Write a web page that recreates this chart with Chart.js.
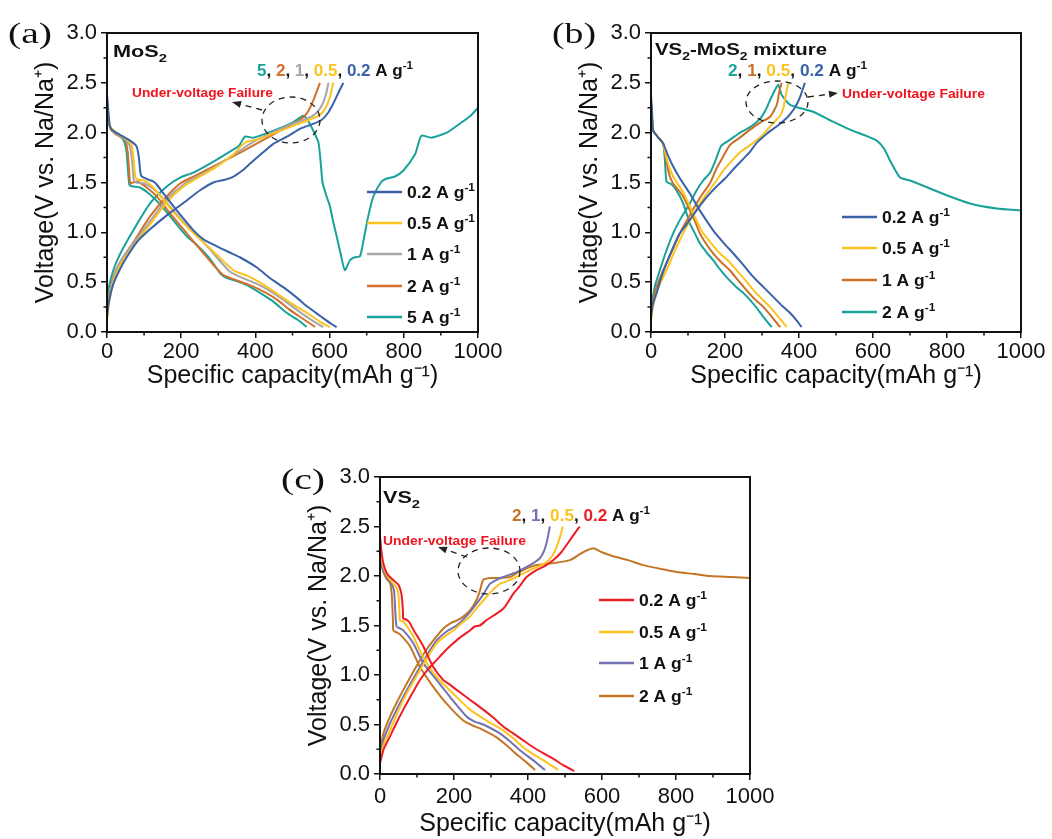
<!DOCTYPE html>
<html>
<head>
<meta charset="utf-8">
<title>Charge-discharge profiles</title>
<script src="https://cdn.jsdelivr.net/npm/chart.js@4.4.1/dist/chart.umd.min.js"></script>
<style>
  html, body { margin: 0; padding: 0; background: #fff; }
  body { position: relative; width: 1052px; height: 839px; overflow: hidden; }
  canvas { position: absolute; }
</style>
</head>
<body>
<canvas id="chartA" width="530" height="400" style="left:0;top:0"></canvas>
<canvas id="chartB" width="508" height="400" style="left:544px;top:0"></canvas>
<canvas id="chartC" width="530" height="395" style="left:273px;top:444px"></canvas>
<script>
// ---------- data (capacity mAh/g, voltage V) ----------
// (a) MoS2
var mos2Rates = ['0.2', '0.5', '1', '2', '5'];
var mos2Colors = ['#3A62A8', '#FCC31E', '#A6A6A6', '#D2712B', '#18A29B'];
var mos2Dis02 = [[0,2.39],[4,2.2],[8,2.06],[20,2.01],[44,1.96],[70,1.9],[80,1.86],[86,1.75],[90,1.6],[94,1.56],[111,1.53],[125,1.51],[134,1.48],[152,1.39],[188,1.22],[233,1.02],[260,0.93],[296,0.86],[330,0.8],[358,0.75],[403,0.65],[440,0.54],[475,0.45],[510,0.35],[538,0.26],[575,0.16],[605,0.08],[619,0.05]];
var mos2Dis05 = [[0,2.3],[4,2.16],[9,2.06],[25,2.0],[50,1.94],[66,1.88],[72,1.72],[76,1.56],[82,1.53],[100,1.52],[116,1.48],[132,1.42],[152,1.33],[180,1.2],[220,1.04],[260,0.9],[300,0.76],[325,0.67],[345,0.61],[380,0.56],[420,0.48],[460,0.38],[500,0.28],[540,0.19],[575,0.1],[601,0.05]];
var mos2Dis1 = [[0,2.28],[4,2.15],[9,2.05],[25,1.99],[50,1.93],[62,1.86],[68,1.7],[72,1.53],[78,1.5],[100,1.49],[116,1.46],[136,1.4],[160,1.3],[190,1.17],[230,1.01],[270,0.86],[305,0.71],[330,0.61],[360,0.55],[400,0.49],[440,0.41],[480,0.31],[520,0.2],[560,0.1],[583,0.05]];
var mos2Dis2 = [[0,2.32],[4,2.15],[9,2.04],[25,1.98],[49,1.93],[56,1.8],[60,1.6],[63,1.49],[70,1.5],[82,1.51],[107,1.45],[134,1.36],[170,1.19],[215,0.99],[260,0.79],[290,0.66],[314,0.57],[341,0.53],[385,0.47],[430,0.39],[460,0.32],[490,0.23],[525,0.14],[561,0.05]];
var mos2Dis5 = [[0,2.29],[4,2.12],[11,2.04],[30,1.98],[44,1.93],[52,1.83],[57,1.6],[61,1.47],[71,1.46],[89,1.45],[116,1.38],[143,1.28],[179,1.12],[215,0.96],[240,0.88],[269,0.77],[290,0.67],[305,0.59],[323,0.54],[350,0.51],[377,0.47],[422,0.37],[450,0.3],[485,0.19],[515,0.12],[538,0.05]];
var mos2Chg02 = [[0,0.15],[5,0.3],[17,0.48],[35,0.63],[53,0.75],[80,0.9],[116,1.03],[161,1.17],[215,1.32],[250,1.42],[287,1.5],[320,1.53],[341,1.56],[365,1.62],[386,1.69],[420,1.8],[449,1.89],[490,1.97],[521,2.04],[557,2.09],[579,2.13],[596,2.2],[611,2.3],[625,2.41],[637,2.5]];
var mos2Chg05 = [[0,0.12],[5,0.28],[17,0.5],[40,0.7],[71,0.86],[110,1.05],[161,1.3],[206,1.46],[250,1.56],[296,1.66],[340,1.78],[360,1.86],[377,1.91],[404,1.93],[440,1.98],[476,2.03],[510,2.08],[539,2.12],[565,2.16],[580,2.2],[592,2.27],[601,2.36],[610,2.5]];
var mos2Chg1 = [[0,0.15],[5,0.32],[17,0.53],[40,0.73],[71,0.89],[110,1.08],[161,1.33],[206,1.48],[250,1.57],[296,1.67],[350,1.8],[400,1.92],[450,2.01],[500,2.09],[540,2.14],[565,2.2],[580,2.28],[590,2.38],[597,2.5]];
var mos2Chg2 = [[0,0.18],[5,0.35],[17,0.55],[35,0.7],[71,0.9],[116,1.16],[161,1.36],[197,1.49],[233,1.56],[296,1.68],[359,1.8],[413,1.91],[467,2.02],[521,2.13],[538,2.19],[550,2.27],[562,2.38],[574,2.5]];
var mos2Chg5 = [[0,0.3],[5,0.45],[17,0.62],[35,0.78],[71,1.02],[116,1.29],[161,1.46],[197,1.55],[233,1.6],[287,1.71],[340,1.83],[356,1.87],[372,1.96],[395,1.95],[449,2.02],[500,2.1],[529,2.17],[542,2.12],[556,2.02],[570,1.9],[576,1.7],[581,1.5],[592,1.36],[601,1.26],[610,1.1],[619,0.96],[630,0.78],[641,0.62],[655,0.72],[668,0.75],[682,0.76],[693,0.95],[704,1.16],[718,1.36],[740,1.51],[754,1.54],[776,1.56],[799,1.62],[830,1.78],[840,1.9],[848,1.97],[875,1.95],[916,2.0],[951,2.09],[980,2.17],[1000,2.25]];

// (b) VS2-MoS2 mixture
var mixRates = ['0.2', '0.5', '1', '2'];
var mixColors = ['#3A62A8', '#FCC31E', '#CB6F26', '#18A29B'];
var mixDis02 = [[0,2.38],[3,2.2],[6,2.02],[20,1.95],[33,1.89],[45,1.78],[60,1.66],[80,1.53],[105,1.39],[132,1.22],[168,1.02],[195,0.9],[222,0.79],[250,0.67],[277,0.55],[304,0.45],[331,0.35],[355,0.26],[376,0.19],[395,0.11],[407,0.05]];
var mixDis05 = [[0,2.3],[3,2.15],[6,2.02],[20,1.95],[33,1.88],[45,1.7],[56,1.59],[70,1.5],[87,1.4],[105,1.26],[123,1.12],[141,0.99],[165,0.88],[186,0.79],[210,0.71],[231,0.62],[255,0.52],[277,0.42],[300,0.33],[322,0.25],[345,0.15],[367,0.05]];
var mixDis1 = [[0,2.32],[3,2.15],[6,2.02],[20,1.95],[33,1.89],[42,1.7],[51,1.56],[60,1.49],[75,1.42],[87,1.36],[105,1.22],[120,1.1],[132,0.99],[150,0.88],[168,0.79],[190,0.7],[213,0.62],[235,0.52],[258,0.42],[280,0.33],[304,0.25],[327,0.15],[349,0.05]];
var mixDis2 = [[0,2.29],[3,2.12],[6,2.02],[20,1.95],[33,1.89],[38,1.7],[42,1.51],[56,1.48],[69,1.42],[87,1.29],[105,1.09],[120,0.98],[132,0.89],[150,0.8],[168,0.72],[186,0.63],[204,0.55],[231,0.45],[250,0.39],[268,0.32],[286,0.24],[304,0.15],[326,0.05]];
var mixChg02 = [[0,0.15],[5,0.28],[15,0.39],[28,0.55],[42,0.69],[60,0.85],[78,0.99],[100,1.1],[123,1.22],[150,1.35],[177,1.46],[200,1.54],[222,1.63],[245,1.72],[268,1.81],[286,1.9],[313,1.99],[331,2.04],[349,2.09],[370,2.16],[385,2.23],[396,2.3],[405,2.38],[416,2.5]];
var mixChg05 = [[0,0.11],[5,0.25],[20,0.45],[42,0.62],[65,0.82],[87,0.99],[110,1.15],[132,1.29],[155,1.41],[177,1.52],[195,1.62],[214,1.7],[240,1.8],[262,1.86],[277,1.9],[300,1.97],[331,2.1],[349,2.17],[358,2.25],[364,2.37],[371,2.5]];
var mixChg1 = [[0,0.18],[5,0.3],[15,0.45],[33,0.62],[55,0.8],[78,0.99],[100,1.14],[123,1.29],[140,1.39],[159,1.49],[177,1.64],[195,1.76],[214,1.88],[240,1.95],[268,2.03],[295,2.1],[322,2.16],[340,2.28],[346,2.4],[353,2.5]];
var mixChg2 = [[0,0.22],[5,0.35],[12,0.48],[24,0.62],[40,0.8],[60,0.99],[82,1.15],[105,1.29],[123,1.42],[141,1.52],[160,1.6],[172,1.7],[182,1.8],[190,1.87],[210,1.92],[241,2.0],[270,2.06],[295,2.14],[310,2.23],[326,2.36],[344,2.48],[353,2.38],[376,2.28],[438,2.21],[492,2.11],[538,2.03],[580,1.97],[610,1.92],[630,1.84],[646,1.72],[673,1.55],[700,1.52],[754,1.44],[808,1.36],[862,1.29],[934,1.24],[1000,1.22]];

// (c) VS2
var vs2Rates = ['0.2', '0.5', '1', '2'];
var vs2Colors = ['#EE1C24', '#FCC31E', '#7472B0', '#C47628'];
var vs2Dis02 = [[0,2.4],[4,2.25],[9,2.13],[18,2.03],[27,1.99],[50,1.91],[56,1.85],[59,1.79],[62,1.65],[63,1.57],[72,1.56],[80,1.53],[90,1.46],[117,1.29],[144,1.08],[171,0.95],[190,0.9],[207,0.85],[243,0.75],[279,0.65],[306,0.57],[333,0.48],[360,0.41],[387,0.34],[414,0.27],[441,0.21],[470,0.15],[495,0.09],[525,0.03]];
var vs2Dis05 = [[0,2.35],[4,2.2],[9,2.1],[18,2.01],[30,1.95],[45,1.88],[50,1.8],[53,1.6],[54,1.55],[63,1.54],[75,1.48],[90,1.39],[117,1.18],[153,0.98],[198,0.81],[243,0.65],[288,0.54],[333,0.44],[360,0.36],[387,0.27],[414,0.2],[441,0.14],[462,0.09],[482,0.04]];
var vs2Dis1 = [[0,2.3],[4,2.15],[9,2.06],[18,1.99],[30,1.93],[38,1.85],[42,1.6],[45,1.49],[54,1.47],[63,1.45],[90,1.32],[117,1.12],[153,0.95],[189,0.78],[234,0.58],[256,0.53],[279,0.5],[324,0.41],[351,0.33],[378,0.24],[410,0.15],[446,0.04]];
var vs2Dis2 = [[0,2.28],[4,2.12],[9,2.04],[18,1.97],[27,1.93],[32,1.8],[35,1.55],[36,1.45],[45,1.43],[54,1.41],[81,1.29],[108,1.08],[144,0.88],[180,0.71],[225,0.54],[250,0.49],[270,0.46],[315,0.37],[342,0.29],[369,0.2],[395,0.12],[419,0.04]];
var vs2Chg02 = [[0,0.11],[10,0.25],[27,0.38],[45,0.52],[63,0.65],[85,0.8],[108,0.95],[130,1.06],[153,1.15],[175,1.24],[198,1.32],[220,1.39],[243,1.45],[256,1.49],[270,1.5],[290,1.56],[315,1.62],[333,1.67],[345,1.73],[360,1.82],[378,1.9],[396,1.99],[423,2.06],[445,2.1],[468,2.16],[490,2.24],[513,2.36],[530,2.45],[540,2.5]];
var vs2Chg05 = [[0,0.14],[10,0.3],[27,0.44],[45,0.6],[63,0.75],[85,0.9],[108,1.05],[130,1.19],[153,1.32],[175,1.39],[198,1.45],[220,1.52],[243,1.59],[265,1.69],[288,1.79],[305,1.86],[324,1.92],[345,1.95],[369,1.99],[405,2.06],[430,2.1],[450,2.14],[465,2.2],[477,2.29],[487,2.4],[494,2.5]];
var vs2Chg1 = [[0,0.17],[10,0.35],[27,0.51],[45,0.65],[63,0.78],[85,0.93],[108,1.08],[130,1.22],[153,1.35],[180,1.44],[207,1.5],[235,1.6],[261,1.72],[280,1.82],[297,1.92],[315,1.96],[333,1.99],[369,2.04],[405,2.11],[432,2.18],[443,2.25],[450,2.33],[455,2.42],[459,2.5]];
var vs2Chg2 = [[0,0.24],[10,0.42],[27,0.58],[45,0.72],[63,0.85],[85,1.0],[108,1.15],[130,1.28],[153,1.39],[171,1.47],[189,1.52],[207,1.55],[225,1.59],[245,1.66],[261,1.76],[270,1.85],[279,1.96],[297,1.98],[320,1.98],[351,1.99],[370,2.03],[387,2.06],[405,2.09],[423,2.11],[468,2.13],[513,2.16],[540,2.22],[560,2.26],[577,2.28],[600,2.24],[630,2.2],[670,2.16],[711,2.11],[760,2.07],[802,2.04],[850,2.02],[892,2.0],[950,1.99],[1000,1.98]];

var xTicks = { min: 0, max: 1000, step: 200 };
var yTicks = { min: 0, max: 3, step: 0.5 };

// ---------- drawing helpers ----------
var sans = '"Liberation Sans", Arial, sans-serif';
var serif = '"Liberation Serif", "Times New Roman", serif';

function segFont(s, size) {
  var sz = (s.sup || s.sub) ? size * 0.68 : size;
  return 'bold ' + sz.toFixed(1) + 'px ' + sans;
}
function richWidth(ctx, segs, size) {
  var w = 0;
  segs.forEach(function(s) { ctx.font = segFont(s, size); w += ctx.measureText(s.t).width; });
  return w;
}
function drawRich(ctx, segs, x, y, size, sx) {
  ctx.save();
  ctx.translate(x, y);
  ctx.scale(sx, 1);
  ctx.textAlign = 'left';
  ctx.textBaseline = 'alphabetic';
  var cx = 0;
  segs.forEach(function(s) {
    ctx.font = segFont(s, size);
    ctx.fillStyle = s.c || '#111';
    var dy = s.sup ? -size * 0.42 : (s.sub ? size * 0.3 : 0);
    ctx.fillText(s.t, cx, dy);
    cx += ctx.measureText(s.t).width;
  });
  ctx.restore();
}
function fitRich(ctx, segs, x, y, size, target) {
  drawRich(ctx, segs, x, y, size, target / richWidth(ctx, segs, size));
}
function unit() { return [{ t: ' A g' }, { t: '-1', sup: true }]; }

function toXY(pts) { return pts.map(function(p) { return { x: p[0], y: p[1] }; }); }

function buildSets(rates, colors, dis, chg) {
  var out = [];
  rates.forEach(function(r, i) {
    out.push({ label: r + ' A g-1', data: toXY(dis[i]), borderColor: colors[i] });
    out.push({ label: r + ' A g-1', data: toXY(chg[i]), borderColor: colors[i] });
  });
  return out;
}

function decorPlugin(p) {
  return {
    id: 'decor',
    afterDraw: function(chart) {
      var ctx = chart.ctx, ca = chart.chartArea;
      var xs = chart.scales.x, ys = chart.scales.y;
      var L = ca.left, T = ca.top;
      ctx.save();
      // minor ticks
      ctx.strokeStyle = '#111';
      ctx.lineWidth = 1.5;
      ctx.beginPath();
      for (var v = xTicks.step / 2; v < xTicks.max; v += xTicks.step) {
        var px = xs.getPixelForValue(v);
        ctx.moveTo(px, ca.bottom); ctx.lineTo(px, ca.bottom + 3.5);
      }
      for (var w = yTicks.step / 2; w < yTicks.max; w += yTicks.step) {
        var py = ys.getPixelForValue(w);
        ctx.moveTo(ca.left, py); ctx.lineTo(ca.left - 3.5, py);
      }
      ctx.stroke();
      // frame
      ctx.lineWidth = 2;
      ctx.strokeRect(ca.left, ca.top, ca.right - ca.left, ca.bottom - ca.top);

      // panel letter
      ctx.font = '30px ' + serif;
      ctx.fillStyle = '#111';
      ctx.textBaseline = 'alphabetic';
      var lw = ctx.measureText(p.letter).width;
      ctx.save();
      ctx.translate(L - 99, T + p.letterDy);
      ctx.scale(44 / lw, 1);
      ctx.fillText(p.letter, 0, 0);
      ctx.restore();

      // sample name
      fitRich(ctx, p.sample, L + p.sampleAt[0], T + p.sampleAt[1], 17, p.sampleW);

      // rate list
      var segs = [];
      p.rateOrder.forEach(function(i, k) {
        if (k > 0) segs.push({ t: ', ' });
        segs.push({ t: p.rates[i], c: p.colors[i] });
      });
      segs = segs.concat(unit());
      fitRich(ctx, segs, L + p.rateAt[0], T + p.rateAt[1], 17, p.rateW);

      // under-voltage note
      fitRich(ctx, [{ t: 'Under-voltage Failure', c: '#F0141E' }], L + p.uvAt[0], T + p.uvAt[1], 13, p.uvW);

      // dashed ellipse + arrow
      ctx.strokeStyle = '#222';
      ctx.lineWidth = 1.3;
      ctx.setLineDash([6, 5]);
      ctx.beginPath();
      ctx.ellipse(L + p.ell[0], T + p.ell[1], p.ell[2], p.ell[3], 0, 0, Math.PI * 2);
      ctx.stroke();
      var a0x = L + p.arrow[0], a0y = T + p.arrow[1], a1x = L + p.arrow[2], a1y = T + p.arrow[3];
      var ang = Math.atan2(a1y - a0y, a1x - a0x);
      ctx.beginPath();
      ctx.moveTo(a0x, a0y);
      ctx.lineTo(a1x - 6 * Math.cos(ang), a1y - 6 * Math.sin(ang));
      ctx.stroke();
      ctx.setLineDash([]);
      ctx.fillStyle = '#222';
      ctx.beginPath();
      ctx.moveTo(a1x, a1y);
      ctx.lineTo(a1x - 9 * Math.cos(ang) + 3.5 * Math.sin(ang), a1y - 9 * Math.sin(ang) - 3.5 * Math.cos(ang));
      ctx.lineTo(a1x - 9 * Math.cos(ang) - 3.5 * Math.sin(ang), a1y - 9 * Math.sin(ang) + 3.5 * Math.cos(ang));
      ctx.closePath();
      ctx.fill();

      // legend
      var first = [{ t: p.rates[0] }].concat(unit());
      var lsx = p.legW / richWidth(ctx, first, 16);
      p.rates.forEach(function(r, i) {
        var ry = T + p.legY[i];
        ctx.strokeStyle = p.colors[i];
        ctx.lineWidth = 2.5;
        ctx.beginPath();
        ctx.moveTo(L + p.legX[0], ry); ctx.lineTo(L + p.legX[1], ry);
        ctx.stroke();
        drawRich(ctx, [{ t: r }].concat(unit()), L + p.legX[2], ry + 6, 16, lsx);
      });
      ctx.restore();
    }
  };
}

function makePanel(p) {
  var tickFont = { family: sans, size: 22 };
  var titleFont = { family: sans, size: 25 };
  new Chart(document.getElementById(p.canvas), {
    type: 'line',
    data: { datasets: buildSets(p.rates, p.colors, p.dis, p.chg) },
    options: {
      responsive: false,
      animation: false,
      layout: { padding: { left: 0, top: 33, right: p.padRight, bottom: 0 } },
      plugins: { legend: { display: false }, tooltip: { enabled: false } },
      elements: { point: { radius: 0 }, line: { borderWidth: 2, tension: 0.2, fill: false } },
      scales: {
        x: {
          type: 'linear', min: xTicks.min, max: xTicks.max,
          ticks: { stepSize: xTicks.step, color: '#111', font: tickFont, padding: p.xTickPad, maxRotation: 0,
                   callback: function(v) { return String(v); } },
          grid: { drawOnChartArea: false, drawTicks: true, tickLength: 6, color: '#111', lineWidth: 1.5 },
          border: { display: false },
          title: { display: true, text: 'Specific capacity(mAh g\u207B\u00B9)', color: '#111', font: titleFont, padding: { top: 0, bottom: p.xTitlePad } },
          afterFit: function(s) { s.height = p.xAxisH; s.paddingLeft = 0; s.paddingRight = 0; }
        },
        y: {
          type: 'linear', min: yTicks.min, max: yTicks.max,
          ticks: { stepSize: yTicks.step, color: '#111', font: tickFont, padding: 4,
                   callback: function(v) { return Number(v).toFixed(1); } },
          grid: { drawOnChartArea: false, drawTicks: true, tickLength: 6, color: '#111', lineWidth: 1.5 },
          border: { display: false },
          title: { display: true, text: 'Voltage(V vs. Na/Na\u207A)', color: '#111', font: titleFont, padding: { top: 31, bottom: 0 } },
          afterFit: function(s) { s.width = 107; s.paddingTop = 0; s.paddingBottom = 0; }
        }
      }
    },
    plugins: [decorPlugin(p)]
  });
}

makePanel({
  canvas: 'chartA', letter: '(a)', letterDy: 10, padRight: 52, xAxisH: 68, xTickPad: 1, xTitlePad: 9,
  rates: mos2Rates, colors: mos2Colors,
  dis: [mos2Dis02, mos2Dis05, mos2Dis1, mos2Dis2, mos2Dis5],
  chg: [mos2Chg02, mos2Chg05, mos2Chg1, mos2Chg2, mos2Chg5],
  sample: [{ t: 'MoS' }, { t: '2', sub: true }], sampleAt: [6, 24], sampleW: 54,
  rateOrder: [4, 3, 2, 1, 0], rateAt: [150, 43], rateW: 156,
  uvAt: [25, 64], uvW: 141,
  ell: [184, 87, 29, 23], arrow: [155, 77, 125, 69],
  legX: [260, 295, 300], legY: [159, 190, 221, 253, 284], legW: 68
});

makePanel({
  canvas: 'chartB', letter: '(b)', letterDy: 10, padRight: 31, xAxisH: 68, xTickPad: 1, xTitlePad: 9,
  rates: mixRates, colors: mixColors,
  dis: [mixDis02, mixDis05, mixDis1, mixDis2],
  chg: [mixChg02, mixChg05, mixChg1, mixChg2],
  sample: [{ t: 'VS' }, { t: '2', sub: true }, { t: '-MoS' }, { t: '2', sub: true }, { t: ' mixture' }], sampleAt: [4, 22], sampleW: 172,
  rateOrder: [3, 2, 1, 0], rateAt: [77, 43], rateW: 139,
  uvAt: [191, 65], uvW: 143,
  ell: [126, 69, 31, 21], arrow: [157, 64, 187, 60],
  legX: [191, 226, 231], legY: [184, 215, 247, 279], legW: 68
});

makePanel({
  canvas: 'chartC', letter: '(c)', letterDy: 12, padRight: 53, xAxisH: 65, xTickPad: 4, xTitlePad: 0,
  rates: vs2Rates, colors: vs2Colors,
  dis: [vs2Dis02, vs2Dis05, vs2Dis1, vs2Dis2],
  chg: [vs2Chg02, vs2Chg05, vs2Chg1, vs2Chg2],
  sample: [{ t: 'VS' }, { t: '2', sub: true }], sampleAt: [3, 26], sampleW: 37,
  rateOrder: [3, 2, 1, 0], rateAt: [132, 44], rateW: 138,
  uvAt: [3, 68], uvW: 143,
  ell: [109, 94, 31, 23], arrow: [87, 80, 58, 70],
  legX: [219, 254, 259], legY: [123, 155, 186, 219], legW: 68
});
</script>
</body>
</html>
